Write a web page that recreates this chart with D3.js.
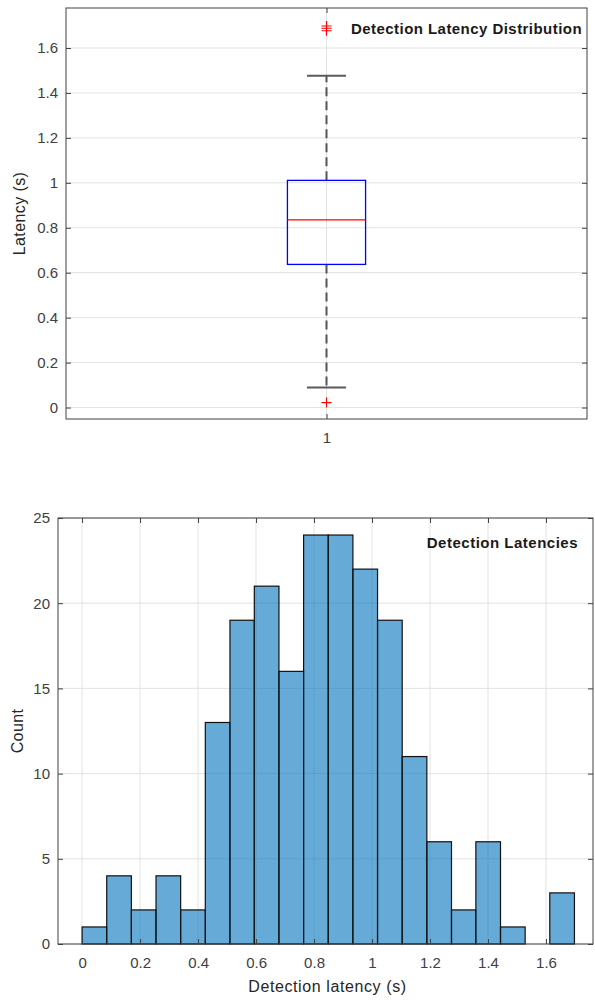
<!DOCTYPE html>
<html>
<head>
<meta charset="utf-8">
<script src="https://cdn.jsdelivr.net/npm/d3@7"></script>
<style>
  body { margin: 0; background: #fff; }
  text { font-family: "Liberation Sans", Arial, Helvetica, sans-serif; }
  .tick text { fill: #404040; font-size: 15px; }
  .domain { display: none; }
  .tick line { stroke: #404040; }
</style>
</head>
<body>
<div id="chart"></div>
<script>
// BOX PLOT DATA (latency, s)
const BOX_GROUPS = [1];
const BOX_QUARTILES = [0.637, 0.835, 1.011];   // q1, median, q3
const BOX_WHISKERS = [0.089, 1.477];           // low, high
const BOX_OUTLIERS = [0.022, 1.677, 1.688, 1.698];
const BOX_Y_TICKS = [0, 0.2, 0.4, 0.6, 0.8, 1, 1.2, 1.4, 1.6];

// HISTOGRAM DATA
const HIST_EDGES = [0, 0.085, 0.170, 0.255, 0.340, 0.425, 0.510, 0.594, 0.679, 0.764,
                    0.849, 0.934, 1.019, 1.104, 1.189, 1.274, 1.358, 1.443, 1.528, 1.613, 1.698];
const HIST_COUNTS = [1, 4, 2, 4, 2, 13, 19, 21, 16, 24, 24, 22, 19, 11, 6, 2, 6, 1, 0, 3];
const HIST_X_TICKS = [0, 0.2, 0.4, 0.6, 0.8, 1, 1.2, 1.4, 1.6];
const HIST_Y_TICKS = [0, 5, 10, 15, 20, 25];

const WIDTH = 595;
const HEIGHT = 1001;
const GRID_COLOR = "#e3e3e3";
const AXIS_COLOR = "#404040";
const FMT = d3.format("~g");

const SVG = d3.select("#chart").append("svg")
  .attr("width", WIDTH)
  .attr("height", HEIGHT);

// GRID
function drawAxes(g, x, y, xTicks, yTicks, w, h) {
  g.append("g").selectAll("line").data(xTicks).enter().append("line")
    .attr("x1", d => x(d)).attr("x2", d => x(d))
    .attr("y1", 0).attr("y2", h)
    .attr("stroke", GRID_COLOR).attr("stroke-width", 1);
  g.append("g").selectAll("line").data(yTicks).enter().append("line")
    .attr("x1", 0).attr("x2", w)
    .attr("y1", d => y(d)).attr("y2", d => y(d))
    .attr("stroke", GRID_COLOR).attr("stroke-width", 1);
}

// FRAME + TICKS (matlab style, ticks inward on all sides)
function drawFrame(g, x, y, xTicks, yTicks, w, h) {
  g.append("g").attr("transform", `translate(0,${h})`)
    .call(d3.axisBottom(x).tickValues(xTicks).tickFormat(FMT).tickSizeInner(-5).tickSizeOuter(0).tickPadding(13));
  g.append("g")
    .call(d3.axisTop(x).tickValues(xTicks).tickFormat("").tickSizeInner(-5).tickSizeOuter(0));
  g.append("g")
    .call(d3.axisLeft(y).tickValues(yTicks).tickFormat(FMT).tickSizeInner(-5).tickSizeOuter(0).tickPadding(8));
  g.append("g").attr("transform", `translate(${w},0)`)
    .call(d3.axisRight(y).tickValues(yTicks).tickFormat("").tickSizeInner(-5).tickSizeOuter(0));
  g.append("rect")
    .attr("width", w).attr("height", h)
    .attr("fill", "none")
    .attr("stroke", AXIS_COLOR).attr("stroke-width", 1);
}

// # --------------------------------------
// # BOX PLOT
// # --------------------------------------
const BOX_M = {left: 66, top: 8, right: 587, bottom: 419};
const BOX_W = BOX_M.right - BOX_M.left;
const BOX_H = BOX_M.bottom - BOX_M.top;

const boxX = d3.scaleLinear().domain([0.5, 1.5]).range([0, BOX_W]);
const boxY = d3.scaleLinear().domain([-0.051, 1.778]).range([BOX_H, 0]);

const BOX_G = SVG.append("g").attr("transform", `translate(${BOX_M.left},${BOX_M.top})`);
drawAxes(BOX_G, boxX, boxY, BOX_GROUPS, BOX_Y_TICKS, BOX_W, BOX_H);

const BOX_HALF = 0.075;
BOX_GROUPS.forEach(gr => {
  // whiskers
  BOX_G.append("line")
    .attr("x1", boxX(gr)).attr("x2", boxX(gr))
    .attr("y1", boxY(BOX_QUARTILES[2])).attr("y2", boxY(BOX_WHISKERS[1]))
    .attr("stroke", "#555").attr("stroke-width", 2).attr("stroke-dasharray", "9,5");
  BOX_G.append("line")
    .attr("x1", boxX(gr)).attr("x2", boxX(gr))
    .attr("y1", boxY(BOX_QUARTILES[0])).attr("y2", boxY(BOX_WHISKERS[0]))
    .attr("stroke", "#555").attr("stroke-width", 2).attr("stroke-dasharray", "9,5");
  BOX_G.selectAll(".cap").data(BOX_WHISKERS).enter().append("line")
    .attr("class", "cap")
    .attr("x1", boxX(gr - BOX_HALF / 2)).attr("x2", boxX(gr + BOX_HALF / 2))
    .attr("y1", d => boxY(d)).attr("y2", d => boxY(d))
    .attr("stroke", "#5a5a5a").attr("stroke-width", 2);
  // box
  BOX_G.append("rect")
    .attr("x", boxX(gr - BOX_HALF))
    .attr("width", boxX(gr + BOX_HALF) - boxX(gr - BOX_HALF))
    .attr("y", boxY(BOX_QUARTILES[2]))
    .attr("height", boxY(BOX_QUARTILES[0]) - boxY(BOX_QUARTILES[2]))
    .attr("fill", "none").attr("stroke", "#0000ff").attr("stroke-width", 1.3);
  // median
  BOX_G.append("line")
    .attr("x1", boxX(gr - BOX_HALF)).attr("x2", boxX(gr + BOX_HALF))
    .attr("y1", boxY(BOX_QUARTILES[1])).attr("y2", boxY(BOX_QUARTILES[1]))
    .attr("stroke", "#ff0000").attr("stroke-width", 1.3);
  // outliers
  BOX_G.selectAll(".outlier").data(BOX_OUTLIERS).enter().append("path")
    .attr("class", "outlier")
    .attr("d", d => `M${boxX(gr) - 5},${boxY(d)}h10M${boxX(gr)},${boxY(d) - 5}v10`)
    .attr("stroke", "#ff0000").attr("stroke-width", 1.1).attr("fill", "none");
});

drawFrame(BOX_G, boxX, boxY, BOX_GROUPS, BOX_Y_TICKS, BOX_W, BOX_H);

BOX_G.append("text")
  .attr("x", BOX_W - 5).attr("y", 26)
  .attr("text-anchor", "end")
  .attr("font-size", 15).attr("font-weight", "bold").attr("fill", "#1a1a1a")
  .attr("letter-spacing", 0.45)
  .text("Detection Latency Distribution");

SVG.append("text")
  .attr("transform", `translate(25,${BOX_M.top + BOX_H / 2}) rotate(-90)`)
  .attr("text-anchor", "middle")
  .attr("font-size", 16).attr("letter-spacing", 0.4).attr("fill", "#262626")
  .text("Latency (s)");

// # --------------------------------------
// # HISTOGRAM
// # --------------------------------------
const HIST_M = {left: 58, top: 518, right: 593, bottom: 944};
const HIST_W = HIST_M.right - HIST_M.left;
const HIST_H = HIST_M.bottom - HIST_M.top;

const histX = d3.scaleLinear().domain([-0.083, 1.762]).range([0, HIST_W]);
const histY = d3.scaleLinear().domain([0, 25]).range([HIST_H, 0]);

const HIST_G = SVG.append("g").attr("transform", `translate(${HIST_M.left},${HIST_M.top})`);
drawAxes(HIST_G, histX, histY, HIST_X_TICKS, HIST_Y_TICKS, HIST_W, HIST_H);

const BINS = HIST_COUNTS.map((c, i) => ({x0: HIST_EDGES[i], x1: HIST_EDGES[i + 1], count: c}))
  .filter(d => d.count > 0);

HIST_G.selectAll(".bar").data(BINS).enter().append("rect")
  .attr("class", "bar")
  .attr("x", d => histX(d.x0))
  .attr("width", d => histX(d.x1) - histX(d.x0))
  .attr("y", d => histY(d.count))
  .attr("height", d => histY(0) - histY(d.count))
  .attr("fill", "#0072bd").attr("fill-opacity", 0.6)
  .attr("stroke", "#111").attr("stroke-width", 1.2);

drawFrame(HIST_G, histX, histY, HIST_X_TICKS, HIST_Y_TICKS, HIST_W, HIST_H);

HIST_G.append("text")
  .attr("x", HIST_W - 15).attr("y", 30)
  .attr("text-anchor", "end")
  .attr("font-size", 15).attr("font-weight", "bold").attr("fill", "#1a1a1a")
  .attr("letter-spacing", 0.5)
  .text("Detection Latencies");

SVG.append("text")
  .attr("transform", `translate(23,${HIST_M.top + HIST_H / 2}) rotate(-90)`)
  .attr("text-anchor", "middle")
  .attr("font-size", 16).attr("letter-spacing", 0.4).attr("fill", "#262626")
  .text("Count");

SVG.append("text")
  .attr("x", HIST_M.left + HIST_W / 2 + 2).attr("y", 992)
  .attr("text-anchor", "middle")
  .attr("font-size", 16).attr("letter-spacing", 0.6).attr("fill", "#262626")
  .text("Detection latency (s)");
</script>
</body>
</html>
